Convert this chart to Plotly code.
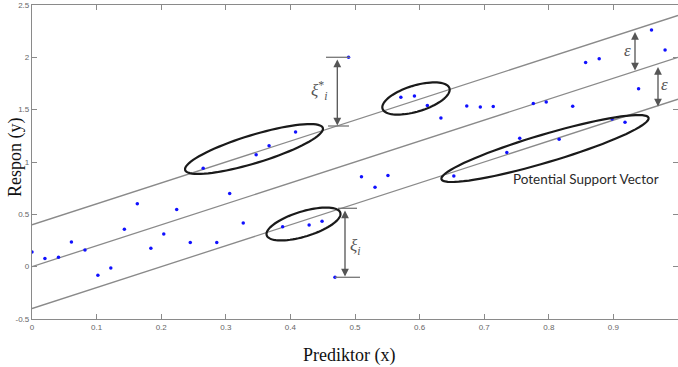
import math
import plotly.graph_objects as go

# ---------------- data ----------------
x_points = [0.0, 0.02, 0.041, 0.061, 0.082, 0.102, 0.122, 0.143, 0.163, 0.184,
            0.204, 0.224, 0.245, 0.265, 0.286, 0.306, 0.327, 0.347, 0.367, 0.388,
            0.408, 0.429, 0.449, 0.469, 0.49, 0.51, 0.531, 0.551, 0.571, 0.592,
            0.612, 0.633, 0.653, 0.673, 0.694, 0.714, 0.735, 0.755, 0.776, 0.796,
            0.816, 0.837, 0.857, 0.878, 0.898, 0.918, 0.939, 0.959, 0.98]
y_points = [0.14, 0.077, 0.09, 0.236, 0.16, -0.083, -0.012, 0.357, 0.60, 0.175,
            0.312, 0.545, 0.23, 0.94, 0.23, 0.70, 0.417, 1.07, 1.156, 0.382,
            1.287, 0.398, 0.434, -0.10, 2.0, 0.86, 0.758, 0.87, 1.618, 1.63,
            1.54, 1.42, 0.866, 1.535, 1.526, 1.53, 1.09, 1.227, 1.56, 1.574,
            1.217, 1.532, 1.95, 1.987, 1.41, 1.38, 1.70, 2.26, 2.07]

line_x = [0, 1]
line_center = [0.0, 2.0]
line_upper = [0.4, 2.4]
line_lower = [-0.4, 1.6]

x_ticks = [0, 0.1, 0.2, 0.3, 0.4, 0.5, 0.6, 0.7, 0.8, 0.9]
x_ticklabels = ["0", "0.1", "0.2", "0.3", "0.4", "0.5", "0.6", "0.7", "0.8", "0.9"]
y_ticks = [-0.5, 0, 0.5, 1, 1.5, 2, 2.5]
y_ticklabels = ["-0.5", "0", "0.5", "1", "1.5", "2", "2.5"]

# ---------------- geometry helpers ----------------
WIDTH, HEIGHT = 678, 367
L, T, R, B = 32, 5, 0, 48
W = WIDTH - L - R
H = HEIGHT - T - B
XR = [0, 1]
YR = [-0.5, 2.5]


def dx(p):
    return XR[0] + (p - L) / W * (XR[1] - XR[0])


def dy(p):
    return YR[1] - (p - T) / H * (YR[1] - YR[0])


def ellipse_path(cx, cy, a, b, theta_deg, n=80):
    th = math.radians(theta_deg)
    pts = []
    for k in range(n + 1):
        t = 2 * math.pi * k / n
        ex = a * math.cos(t)
        ey = b * math.sin(t)
        px = cx + ex * math.cos(th) - ey * math.sin(th)
        py = cy - (ex * math.sin(th) + ey * math.cos(th))
        pts.append(f"{dx(px):.5f},{dy(py):.5f}")
    return "M " + " L ".join(pts) + " Z"


fig = go.Figure()

line_style = dict(color="#8a8a8a", width=1.3)
for ys in (line_upper, line_center, line_lower):
    fig.add_trace(go.Scatter(x=line_x, y=ys, mode="lines", line=line_style,
                             hoverinfo="skip", showlegend=False))

fig.add_trace(go.Scatter(x=x_points, y=y_points, mode="markers",
                         marker=dict(color="#1010ff", size=3.5),
                         showlegend=False))

shapes = []
# ellipses (pixel centre, semi axes, tilt)
for (cx, cy, a, b, th) in [(254, 149, 72, 14, 17),
                           (416, 98.5, 35, 13, 17),
                           (303.5, 224, 38.5, 12.5, 17),
                           (545, 148.5, 108, 14, 16.5)]:
    shapes.append(dict(type="path", path=ellipse_path(cx, cy, a, b, th),
                       line=dict(color="#1a1a1a", width=2.2), xref="x", yref="y"))

# caps of the xi arrows
for (x0, x1, yp) in [(326, 350, 57.3), (328, 349, 126),
                     (338, 357, 208.3), (335, 360, 277.3)]:
    shapes.append(dict(type="line", x0=dx(x0), x1=dx(x1), y0=dy(yp), y1=dy(yp),
                       line=dict(color="#777", width=1.3), xref="x", yref="y"))

annotations = []
# double arrows
for (xp, y_top, y_bot) in [(337.3, 58, 125.5), (345, 209, 276.5),
                           (635, 30.5, 70.5), (658, 65.5, 106.5)]:
    annotations.append(dict(x=dx(xp), y=dy(y_bot), ax=dx(xp), ay=dy(y_top),
                            xref="x", yref="y", axref="x", ayref="y",
                            showarrow=True, arrowhead=2, startarrowhead=2,
                            arrowside="end+start", arrowsize=1.2,
                            startarrowsize=1.2, arrowwidth=1.3,
                            arrowcolor="#555", text=""))

sym_font = dict(family="Liberation Serif, serif", size=17, color="#555")
annotations += [
    dict(x=dx(319), y=dy(90), text="<i>ξ</i><sup>*</sup><sub><i>i</i></sub>",
         showarrow=False, font=sym_font, xref="x", yref="y"),
    dict(x=dx(355), y=dy(247), text="<i>ξ</i><sub><i>i</i></sub>",
         showarrow=False, font=sym_font, xref="x", yref="y"),
    dict(x=dx(627.5), y=dy(50), text="<i>ε</i>", showarrow=False,
         font=sym_font, xref="x", yref="y"),
    dict(x=dx(664), y=dy(84), text="<i>ε</i>", showarrow=False,
         font=sym_font, xref="x", yref="y"),
    dict(x=dx(585.5), y=dy(179), text="Potential Support Vector",
         showarrow=False, xref="x", yref="y",
         font=dict(family="Lato, Open Sans, sans-serif", size=13.5, color="#2a2a2a")),
    dict(x=(349 - L) / W, y=1 - (355 - T) / H, xref="paper", yref="paper",
         xanchor="center", yanchor="middle",
         text="Prediktor (x)", showarrow=False,
         font=dict(family="Liberation Serif, Times New Roman, serif", size=18, color="#111")),
    dict(x=(15 - L) / W, y=1 - (157 - T) / H, xref="paper", yref="paper",
         xanchor="center", yanchor="middle",
         text="Respon (y)", showarrow=False, textangle=-90,
         font=dict(family="Liberation Serif, Times New Roman, serif", size=18, color="#111")),
]

axis_common = dict(showgrid=False, zeroline=False, showline=True, linecolor="#8a8a8a",
                   linewidth=1.2, ticks="inside", ticklen=5, tickcolor="#8a8a8a",
                   mirror="ticks",
                   tickfont=dict(family="Liberation Sans, Arial, sans-serif", size=8,
                                 color="#666"))

fig.update_layout(
    width=WIDTH, height=HEIGHT,
    margin=dict(l=L, r=R, t=T, b=B, autoexpand=False),
    paper_bgcolor="white", plot_bgcolor="white",
    shapes=shapes, annotations=annotations,
    xaxis=dict(range=XR, tickvals=x_ticks, ticktext=x_ticklabels, **axis_common),
    yaxis=dict(range=YR, tickvals=y_ticks, ticktext=y_ticklabels, **axis_common),
    showlegend=False,
)

fig.write_html("out.html", config={"displayModeBar": False},
               post_script="document.body.style.margin='0';document.body.style.overflow='hidden';")
